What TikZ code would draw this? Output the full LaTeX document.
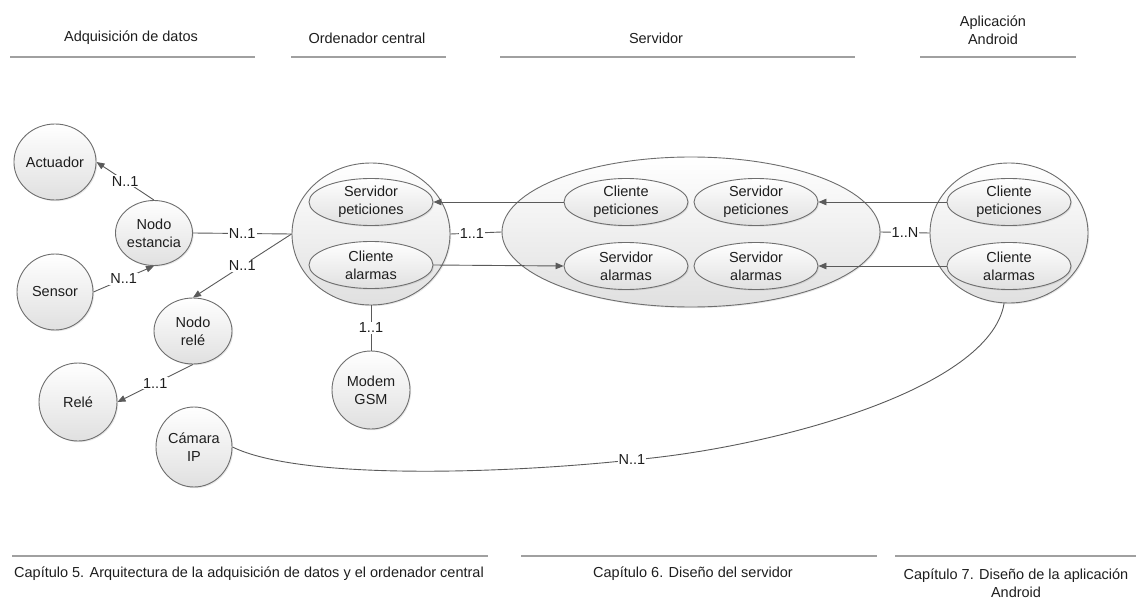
\documentclass[tikz,border=0pt]{standalone}
\usepackage{fontspec}
\setmainfont{Liberation Sans}
\usetikzlibrary{shapes.geometric,arrows.meta,shadows}

\definecolor{nodeline}{HTML}{6E6E6E}
\definecolor{nodefill}{HTML}{E0E0E0}
\definecolor{edgecol}{HTML}{5A5A5A}
\definecolor{rulecol}{HTML}{A0A0A0}
\definecolor{txt}{HTML}{1E1E1E}

\begin{document}
\begin{tikzpicture}[x=1pt,y=-1pt,
  every node/.style={font=\fontsize{14.5}{18}\selectfont, text=txt},
  blob/.style={ellipse, draw=nodeline, line width=0.9pt,
    top color=white, bottom color=nodefill, inner sep=0pt, align=center,
    drop shadow={opacity=0.18, shadow xshift=1.2pt, shadow yshift=-1.2pt}},
  inner/.style={blob, minimum width=124pt, minimum height=47pt},
  conn/.style={draw=edgecol, line width=0.9pt},
  arr/.style={conn, -{Triangle[length=8pt,width=6.5pt]}},
  lab/.style={fill=white, inner sep=1pt},
  rule/.style={draw=rulecol, line width=2pt},
  hdr/.style={align=center}]
\useasboundingbox (0,0) rectangle (1136,599);

% column headings
\node[hdr] (h1) at (131,38) {Adquisición de datos};
\node[hdr] (h2) at (367,38) {Ordenador central};
\node[hdr] (h3) at (656,38) {Servidor};
\node[hdr] (h4) at (993,30) {Aplicación\\Android};
\draw[rule] (10,57) -- (255,57);
\draw[rule] (291,57) -- (446,57);
\draw[rule] (500,57) -- (855,57);
\draw[rule] (920,57) -- (1076,57);

% chapter footers
\draw[rule] (12,556) -- (488,556);
\draw[rule] (521,556) -- (877,556);
\draw[rule] (895,556) -- (1136,556);
\node[hdr] (f1) at (249,574) {Capítulo 5. Arquitectura de la adquisición de datos y el ordenador central};
\node[hdr] (f2) at (693,574) {Capítulo 6. Diseño del servidor};
\node[hdr] (f3) at (1016,583) {Capítulo 7. Diseño de la aplicación\\Android};

% data acquisition devices
\node[blob, minimum width=76pt, minimum height=76pt] (act) at (55,162) {Actuador};
\node[blob, minimum width=76pt, minimum height=76pt] (sen) at (55,292) {Sensor};
\node[blob, minimum width=77pt, minimum height=65pt] (ne) at (154,233) {Nodo\\estancia};
\node[blob, minimum width=78pt, minimum height=66pt] (nr) at (193,331) {Nodo\\relé};
\node[blob, minimum width=78pt, minimum height=78pt] (rel) at (78,402) {Relé};
\node[blob, minimum width=76pt, minimum height=80pt] (cam) at (194,447) {Cámara\\IP};

% central computer
\node[blob, minimum width=158pt, minimum height=142pt] (oc) at (371,234) {};
\node[inner] (osp) at (371,202) {Servidor\\peticiones};
\node[inner] (oca) at (371,265) {Cliente\\alarmas};
\node[blob, minimum width=78pt, minimum height=78pt] (mod) at (371,390) {Modem\\GSM};

% server
\node[blob, minimum width=378pt, minimum height=150pt] (srv) at (691,232) {};
\node[inner] (scp) at (626,202) {Cliente\\peticiones};
\node[inner] (ssp) at (756,202) {Servidor\\peticiones};
\node[inner] (ssa) at (626,266) {Servidor\\alarmas};
\node[inner] (ssb) at (756,266) {Servidor\\alarmas};

% Android application
\node[blob, minimum width=158pt, minimum height=140pt] (and) at (1009,233) {};
\node[inner] (acp) at (1009,202) {Cliente\\peticiones};
\node[inner] (aca) at (1009,266) {Cliente\\alarmas};

% relations
\draw[arr] (ne.north) -- node[lab]{N..1} (act.east);
\draw[arr] (sen.east) -- node[lab]{N..1} (ne.south);
\draw[conn] (ne.east) -- node[lab]{N..1} (oc.west);
\draw[arr] (oc.west) -- node[lab]{N..1} (nr.north);
\draw[arr] (nr.south) -- node[lab]{1..1} (rel.east);
\draw[conn] (oc.south) -- node[lab]{1..1} (mod.north);
\draw[conn] (oc.east) -- node[lab,pos=0.42]{1..1} (srv.west);
\draw[conn] (srv.east) -- node[lab]{1..N} (and.west);

\draw[arr] (scp.west) -- (osp.east);
\draw[arr] (oca.east) -- (ssa.west);
\draw[arr] (acp.west) -- (ssp.east);
\draw[arr] (aca.west) -- (ssb.east);

% camera stream link
\coordinate (cm) at (632,460);
\draw[conn] (and.266) .. controls (990,390) and (770,448) .. (cm)
  .. controls (500,474) and (300,480) .. (cam.east);
\node[lab] (cml) at (cm) {N..1};
\end{tikzpicture}
\end{document}
